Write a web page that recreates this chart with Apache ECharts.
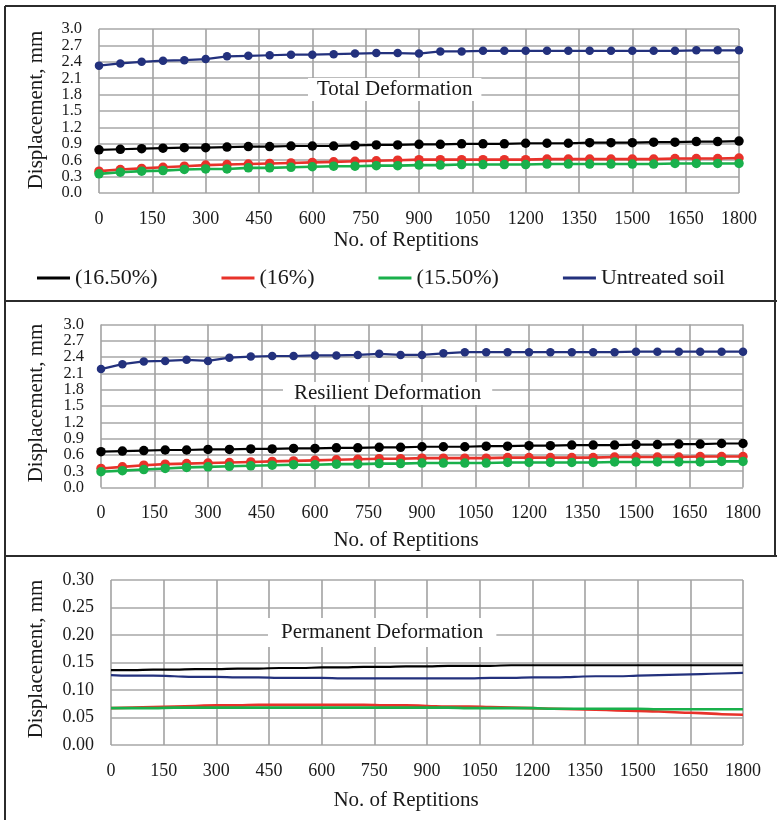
<!DOCTYPE html>
<html>
<head>
<meta charset="utf-8">
<title>Deformation vs. Repetitions</title>
<script src="https://cdn.jsdelivr.net/npm/echarts@6/dist/echarts.min.js"></script>
<style>
  html, body { margin: 0; padding: 0; background: #fff; }
  #chart { width: 777px; height: 820px; }
</style>
</head>
<body>
<div id="chart"></div>
<script>
// Number of load repetitions at which readings were taken
const reps = [0, 60, 120, 180, 240, 300, 360, 420, 480, 540, 600, 660, 720, 780, 840, 900,
  960, 1020, 1080, 1140, 1200, 1260, 1320, 1380, 1440, 1500, 1560, 1620, 1680, 1740, 1800];

const seriesNames = ['(16.50%)', '(16%)', '(15.50%)', 'Untreated soil'];
const seriesColors = ['#000000', '#e8322a', '#19b04b', '#23317d'];

// Total deformation, mm
const totalBlack = [0.79, 0.80, 0.81, 0.82, 0.83, 0.83, 0.84, 0.85, 0.85, 0.86, 0.86, 0.86, 0.87, 0.88, 0.88, 0.89,
  0.89, 0.90, 0.90, 0.90, 0.91, 0.91, 0.91, 0.92, 0.92, 0.92, 0.93, 0.93, 0.94, 0.94, 0.95];
const totalRed = [0.40, 0.43, 0.45, 0.47, 0.49, 0.51, 0.52, 0.53, 0.54, 0.55, 0.56, 0.57, 0.58, 0.59, 0.60, 0.61,
  0.61, 0.61, 0.61, 0.61, 0.61, 0.62, 0.62, 0.62, 0.62, 0.62, 0.62, 0.63, 0.63, 0.63, 0.64];
const totalGreen = [0.35, 0.38, 0.40, 0.41, 0.43, 0.44, 0.44, 0.46, 0.46, 0.47, 0.48, 0.49, 0.49, 0.50, 0.50, 0.51,
  0.51, 0.52, 0.52, 0.52, 0.52, 0.53, 0.53, 0.53, 0.53, 0.53, 0.53, 0.54, 0.54, 0.54, 0.54];
const totalBlue = [2.33, 2.37, 2.40, 2.42, 2.43, 2.45, 2.50, 2.51, 2.52, 2.53, 2.53, 2.54, 2.55, 2.56, 2.56, 2.55,
  2.59, 2.59, 2.60, 2.60, 2.60, 2.60, 2.60, 2.60, 2.60, 2.60, 2.60, 2.60, 2.61, 2.61, 2.61];

// Resilient deformation, mm
const resBlack = [0.66, 0.67, 0.68, 0.69, 0.69, 0.70, 0.70, 0.71, 0.71, 0.72, 0.72, 0.73, 0.73, 0.74, 0.74, 0.75,
  0.75, 0.75, 0.76, 0.76, 0.77, 0.77, 0.78, 0.78, 0.78, 0.79, 0.79, 0.80, 0.80, 0.81, 0.81];
const resRed = [0.35, 0.38, 0.41, 0.43, 0.44, 0.45, 0.46, 0.47, 0.48, 0.49, 0.50, 0.51, 0.52, 0.53, 0.53, 0.54,
  0.54, 0.54, 0.54, 0.55, 0.55, 0.55, 0.55, 0.55, 0.56, 0.56, 0.56, 0.56, 0.57, 0.57, 0.57];
const resGreen = [0.29, 0.31, 0.33, 0.35, 0.37, 0.38, 0.39, 0.40, 0.41, 0.42, 0.42, 0.43, 0.43, 0.44, 0.44, 0.45,
  0.45, 0.45, 0.45, 0.46, 0.46, 0.46, 0.46, 0.46, 0.47, 0.47, 0.47, 0.47, 0.47, 0.48, 0.48];
const resBlue = [2.18, 2.27, 2.32, 2.33, 2.35, 2.33, 2.39, 2.41, 2.42, 2.42, 2.43, 2.43, 2.44, 2.46, 2.44, 2.44,
  2.47, 2.49, 2.49, 2.49, 2.49, 2.49, 2.49, 2.49, 2.49, 2.50, 2.50, 2.50, 2.50, 2.50, 2.50];

// Permanent deformation, mm
const permBlack = [0.136, 0.136, 0.137, 0.137, 0.138, 0.138, 0.139, 0.139, 0.140, 0.140, 0.141, 0.141, 0.142, 0.142, 0.143, 0.143,
  0.144, 0.144, 0.144, 0.145, 0.145, 0.145, 0.145, 0.145, 0.145, 0.145, 0.145, 0.145, 0.145, 0.145, 0.145];
const permRed = [0.067, 0.068, 0.069, 0.070, 0.071, 0.072, 0.072, 0.073, 0.073, 0.073, 0.073, 0.073, 0.073, 0.072, 0.072, 0.071,
  0.070, 0.070, 0.069, 0.068, 0.067, 0.066, 0.065, 0.064, 0.063, 0.062, 0.061, 0.059, 0.058, 0.056, 0.055];
const permGreen = [0.067, 0.067, 0.067, 0.068, 0.068, 0.068, 0.068, 0.068, 0.068, 0.068, 0.068, 0.068, 0.068, 0.068, 0.068, 0.068,
  0.068, 0.067, 0.067, 0.067, 0.067, 0.066, 0.066, 0.066, 0.066, 0.066, 0.065, 0.065, 0.065, 0.065, 0.065];
const permBlue = [0.127, 0.126, 0.126, 0.125, 0.124, 0.124, 0.123, 0.123, 0.122, 0.122, 0.122, 0.121, 0.121, 0.121, 0.121, 0.121,
  0.121, 0.121, 0.122, 0.122, 0.123, 0.123, 0.124, 0.125, 0.125, 0.126, 0.127, 0.128, 0.129, 0.130, 0.131];

// Axis ranges / tick steps
const xMax = 1800, xStep = 150;
const yTop = [3.0, 3.0, 0.30];
const yStep = [0.3, 0.3, 0.05];
const yDigits = [1, 1, 2];
// Tick labels of the mm axes in the two upper panels, split into two
// interleaved sets so the closely spaced labels are all kept
const mmTicksEven = [0.0, 0.6, 1.2, 1.8, 2.4, 3.0];
const mmTicksOdd = [0.3, 0.9, 1.5, 2.1, 2.7];

const panelTitles = ['Total Deformation', 'Resilient Deformation', 'Permanent Deformation'];
const xTitle = 'No. of Reptitions';
const yTitle = 'Displacement, mm';

const FONT = 'Liberation Serif';
const TXT = '#1a1a1a';

const chart = echarts.init(document.getElementById('chart'));

const grids = [
  { left: 99, right: 38, top: 29, height: 164 },
  { left: 101, right: 34, top: 324.5, height: 163 },
  { left: 111, right: 34, top: 580, height: 165 }
];

const xAxes = grids.map((g, i) => ({
  type: 'value', gridIndex: i, min: 0, max: xMax, interval: xStep,
  axisLine: { show: false }, axisTick: { show: false },
  axisLabel: {
    color: TXT, fontFamily: FONT, fontSize: 18, margin: 17,
    showMinLabel: true, showMaxLabel: true, hideOverlap: false,
    formatter: v => String(v)
  },
  splitLine: { show: true, lineStyle: { color: '#a2a2a2', width: 1.6 } }
}));

const yLabelBase = i => ({
  color: TXT, fontFamily: FONT,
  fontSize: i === 2 ? 18 : 16.5,
  margin: 17,
  showMinLabel: true, showMaxLabel: true, hideOverlap: false,
  formatter: v => Number(v).toFixed(yDigits[i])
});

// Main value axes (gridlines + labels)
const yAxes = grids.map((g, i) => {
  const label = yLabelBase(i);
  if (i < 2) label.customValues = mmTicksEven;
  return {
    type: 'value', gridIndex: i, min: 0, max: yTop[i], interval: yStep[i],
    axisLine: { show: false }, axisTick: { show: false },
    axisLabel: label,
    splitLine: { show: true, lineStyle: { color: '#bdbdbd', width: 2 } }
  };
});
// Companion axes carrying the in-between labels of the two upper panels
[0, 1].forEach(i => {
  const label = yLabelBase(i);
  label.customValues = mmTicksOdd;
  yAxes.push({
    type: 'value', gridIndex: i, position: 'left', offset: 0,
    min: 0, max: yTop[i], interval: yStep[i],
    axisLine: { show: false }, axisTick: { show: false },
    axisLabel: label,
    splitLine: { show: false }
  });
});

const panelData = [
  [totalBlack, totalRed, totalGreen, totalBlue],
  [resBlack, resRed, resGreen, resBlue],
  [permBlack, permRed, permGreen, permBlue]
];

const series = [];
panelData.forEach((sets, p) => {
  sets.forEach((vals, k) => {
    const withMarks = p < 2;
    series.push({
      name: seriesNames[k],
      type: 'line',
      xAxisIndex: p, yAxisIndex: p,
      data: reps.map((x, j) => [x, vals[j]]),
      smooth: !withMarks,
      showSymbol: withMarks,
      symbol: 'circle',
      symbolSize: k === 3 ? 8.5 : 9.5,
      itemStyle: { color: seriesColors[k] },
      lineStyle: { color: seriesColors[k], width: (k === 1 || k === 2) ? 2.6 : 2.2 },
      emphasis: { disabled: true },
      silent: true,
      animation: false,
      z: 3 + k
    });
  });
});

const titleBoxes = [
  { left: 308, top: 78, pad: [1, 9] },
  { left: 283, top: 382, pad: [1, 11] },
  { left: 268, top: 618, pad: [4, 13] }
];

const titles = panelTitles.map((t, i) => ({
  text: t,
  left: titleBoxes[i].left, top: titleBoxes[i].top,
  padding: titleBoxes[i].pad,
  backgroundColor: '#ffffff',
  textStyle: { fontFamily: FONT, fontSize: 21, fontWeight: 'normal', color: TXT, lineHeight: 21 },
  z: 10
}));

const xTitleY = [240, 540, 800];
const yTitleY = [110, 403, 659];
const axisTitles = [];
for (let i = 0; i < 3; i++) {
  axisTitles.push({
    type: 'text', x: 406, y: xTitleY[i], z: 20,
    style: { text: xTitle, fill: TXT, font: '21px ' + FONT, textAlign: 'center', textVerticalAlign: 'middle' }
  });
  axisTitles.push({
    type: 'text', x: 36, y: yTitleY[i], rotation: Math.PI / 2, z: 20,
    style: { text: yTitle, fill: TXT, font: '21px ' + FONT, textAlign: 'center', textVerticalAlign: 'middle' }
  });
}

// Panel frame lines
const frameStroke = { stroke: '#2b2b2b', lineWidth: 2 };
const frame = [
  { type: 'line', shape: { x1: 5, y1: 6, x2: 776, y2: 6 }, style: frameStroke, z: 30 },
  { type: 'line', shape: { x1: 5, y1: 6, x2: 5, y2: 820 }, style: frameStroke, z: 30 },
  { type: 'line', shape: { x1: 5, y1: 301, x2: 777, y2: 301 }, style: frameStroke, z: 30 },
  { type: 'line', shape: { x1: 5, y1: 556, x2: 777, y2: 556 }, style: frameStroke, z: 30 },
  { type: 'line', shape: { x1: 775, y1: 6, x2: 775, y2: 556 }, style: frameStroke, z: 30 }
];

chart.setOption({
  animation: false,
  backgroundColor: '#ffffff',
  grid: grids,
  xAxis: xAxes,
  yAxis: yAxes,
  title: titles,
  legend: {
    data: seriesNames,
    left: 32, top: 262,
    icon: 'rect', itemWidth: 33, itemHeight: 3, itemGap: 64,
    selectedMode: false,
    textStyle: { fontFamily: FONT, fontSize: 22, color: TXT }
  },
  graphic: axisTitles.concat(frame),
  series: series
});
</script>
</body>
</html>
